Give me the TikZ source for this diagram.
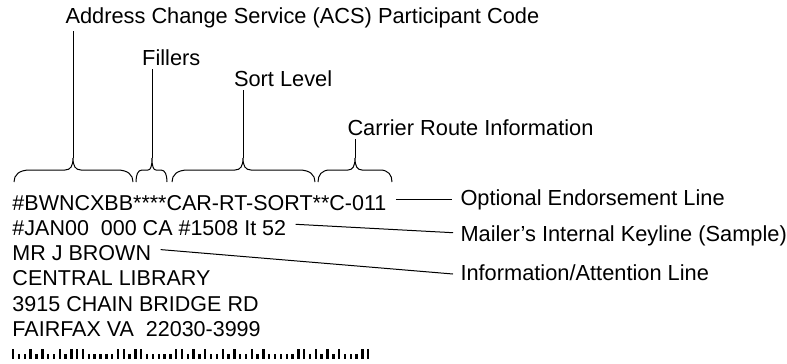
\documentclass[tikz,border=0pt]{standalone}
\usepackage{fontspec}
\setmainfont{Liberation Sans}
\begin{document}
\begin{tikzpicture}[x=1pt, y=-1pt, line width=1pt,
  addr/.style={anchor=base west, inner sep=0pt, font=\fontsize{21.5}{25}\selectfont},
  lbl/.style={anchor=base west, inner sep=0pt, font=\fontsize{21.8}{26}\selectfont}]
\useasboundingbox (0,0) rectangle (787,364);
% address block
\node[addr] (l1) at (12,210){\#BWNCXBB****CAR-RT-SORT**C-011};
\node[addr] (l2) at (12,235.3){\#JAN00\ \ 000 CA \#1508 It 52};
\node[addr] (l3) at (12,260.6){MR J BROWN};
\node[addr] (l4) at (12,285.9){CENTRAL LIBRARY};
\node[addr] (l5) at (12,311.2){3915 CHAIN BRIDGE RD};
\node[addr] (l6) at (12,336.5){FAIRFAX VA\ \ 22030-3999};
% labels above
\node[lbl] (acs) at (65,23.3){Address Change Service (ACS) Participant Code};
\node[lbl] (fil) at (141.7,65){Fillers};
\node[lbl] (srt) at (233.5,86){Sort Level};
\node[lbl] (crt) at (347,135){Carrier Route Information};
% labels right
\node[lbl] (opt) at (460,205){Optional Endorsement Line};
\node[lbl] (mkl) at (460,241.7){Mailer’s Internal Keyline (Sample)};
\node[lbl] (inf) at (460,280){Information/Attention Line};
% braces
\foreach \n/\xa/\xm/\xb/\cw/\tw in {acs/14/73/133/16/8, fil/136/152/167/6/4, srt/172/243/315/16/8, crt/318/355/392/12/7}{
  \draw (\xa,182) .. controls (\xa,175) and (\xa+0.3*\cw,170) .. (\xa+\cw,170)
    -- (\xm-\tw,170) .. controls (\xm-0.3*\tw,170) and (\xm,166) .. (\xm,158)
    .. controls (\xm,166) and (\xm+0.3*\tw,170) .. (\xm+\tw,170)
    -- (\xb-\cw,170) .. controls (\xb-0.3*\cw,170) and (\xb,175) .. (\xb,182);
  \coordinate (\n-tip) at (\xm,158);
}
\draw (acs-tip) -- ([yshift=-3pt]acs-tip |- acs.south);
\draw (fil-tip) -- ([yshift=-3pt]fil-tip |- fil.south);
\draw (srt-tip) -- ([yshift=-3pt]srt-tip |- srt.south);
\draw (crt-tip) -- ([yshift=-3pt]crt-tip |- crt.south);
\draw ([xshift=9pt,yshift=11pt]l1.base east) -- ([xshift=-8pt,yshift=6pt]opt.base west);
\draw ([xshift=9pt,yshift=11pt]l2.base east) -- ([xshift=-7pt,yshift=9pt]mkl.base west);
\draw ([xshift=9pt,yshift=11pt]l3.base east) -- ([xshift=-7pt,yshift=6pt]inf.base west);
% barcode
\foreach \b [count=\i from 0] in {1, 0,0,1,0,1, 0,0,1,0,1, 1,1,0,0,0, 0,0,1,1,0, 1,1,0,0,0, 0,0,1,1,0, 1,0,1,0,0, 1,0,1,0,0, 1,0,1,0,0, 0,0,0,1,1, 0,1,0,1,0, 1,0,0,0,1, 1}{
  \pgfmathsetmacro\bh{\b==1 ? 10 : 4.2}
  \fill (12+\i*5.82,358.5) rectangle ++(2.4,-\bh);
}
\end{tikzpicture}
\end{document}
